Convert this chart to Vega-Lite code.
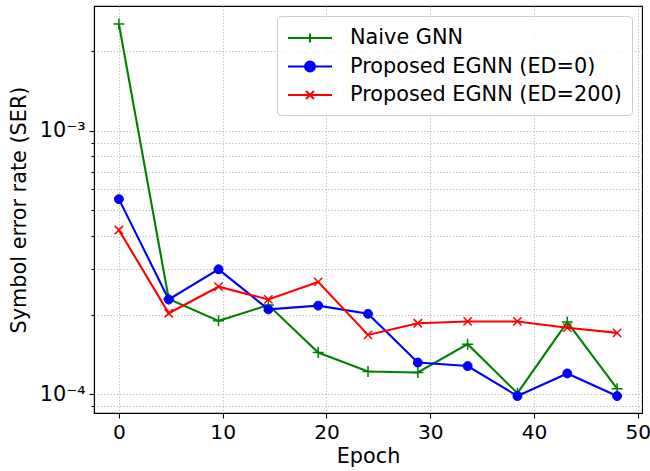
{
  "$schema": "https://vega.github.io/schema/vega-lite/v6.json",
  "autosize": "none",
  "width": 548,
  "height": 407,
  "padding": {"left": 94, "top": 6, "right": 8, "bottom": 58},
  "background": "white",
  "data": {"values": [
    {"epoch": 0, "series": "Naive GNN", "ser": 0.00254},
    {"epoch": 4.8, "series": "Naive GNN", "ser": 0.000230},
    {"epoch": 9.6, "series": "Naive GNN", "ser": 0.000190},
    {"epoch": 14.4, "series": "Naive GNN", "ser": 0.000218},
    {"epoch": 19.2, "series": "Naive GNN", "ser": 0.000144},
    {"epoch": 24, "series": "Naive GNN", "ser": 0.000122},
    {"epoch": 28.8, "series": "Naive GNN", "ser": 0.000121},
    {"epoch": 33.6, "series": "Naive GNN", "ser": 0.000155},
    {"epoch": 38.4, "series": "Naive GNN", "ser": 0.000101},
    {"epoch": 43.2, "series": "Naive GNN", "ser": 0.000188},
    {"epoch": 48, "series": "Naive GNN", "ser": 0.000105},
    {"epoch": 0, "series": "Proposed EGNN (ED=0)", "ser": 0.000550},
    {"epoch": 4.8, "series": "Proposed EGNN (ED=0)", "ser": 0.000229},
    {"epoch": 9.6, "series": "Proposed EGNN (ED=0)", "ser": 0.000298},
    {"epoch": 14.4, "series": "Proposed EGNN (ED=0)", "ser": 0.000210},
    {"epoch": 19.2, "series": "Proposed EGNN (ED=0)", "ser": 0.000217},
    {"epoch": 24, "series": "Proposed EGNN (ED=0)", "ser": 0.000202},
    {"epoch": 28.8, "series": "Proposed EGNN (ED=0)", "ser": 0.000132},
    {"epoch": 33.6, "series": "Proposed EGNN (ED=0)", "ser": 0.000128},
    {"epoch": 38.4, "series": "Proposed EGNN (ED=0)", "ser": 0.0000985},
    {"epoch": 43.2, "series": "Proposed EGNN (ED=0)", "ser": 0.000120},
    {"epoch": 48, "series": "Proposed EGNN (ED=0)", "ser": 0.0000985},
    {"epoch": 0, "series": "Proposed EGNN (ED=200)", "ser": 0.000420},
    {"epoch": 4.8, "series": "Proposed EGNN (ED=200)", "ser": 0.000203},
    {"epoch": 9.6, "series": "Proposed EGNN (ED=200)", "ser": 0.000256},
    {"epoch": 14.4, "series": "Proposed EGNN (ED=200)", "ser": 0.000229},
    {"epoch": 19.2, "series": "Proposed EGNN (ED=200)", "ser": 0.000267},
    {"epoch": 24, "series": "Proposed EGNN (ED=200)", "ser": 0.000168},
    {"epoch": 28.8, "series": "Proposed EGNN (ED=200)", "ser": 0.000186},
    {"epoch": 33.6, "series": "Proposed EGNN (ED=200)", "ser": 0.000189},
    {"epoch": 38.4, "series": "Proposed EGNN (ED=200)", "ser": 0.000189},
    {"epoch": 43.2, "series": "Proposed EGNN (ED=200)", "ser": 0.000179},
    {"epoch": 48, "series": "Proposed EGNN (ED=200)", "ser": 0.000171}
  ]},
  "encoding": {
    "x": {
      "field": "epoch", "type": "quantitative",
      "scale": {"domain": [-2.4, 50.4], "nice": false, "zero": false},
      "axis": {"title": "Epoch", "values": [0, 10, 20, 30, 40, 50], "format": "d", "labelFontSize": 20.2}
    },
    "y": {
      "field": "ser", "type": "quantitative",
      "scale": {"type": "log", "domain": [0.00008495, 0.002972], "nice": false},
      "axis": {
        "title": "Symbol error rate (SER)",
        "values": [0.00009, 0.0001, 0.0002, 0.0003, 0.0004, 0.0005, 0.0006, 0.0007, 0.0008, 0.0009, 0.001, 0.002],
        "labelExpr": "datum.value == 0.001 ? '10⁻³' : (datum.value == 0.0001 ? '10⁻⁴' : '')",
        "tickSize": {"condition": {"test": "datum.value == 0.001 || datum.value == 0.0001", "value": 5}, "value": 3},
        "titlePadding": 10
      }
    }
  },
  "layer": [
    {
      "transform": [{"filter": "datum.series == 'Naive GNN'"}],
      "mark": {"type": "line", "stroke": "#008000", "strokeWidth": 2.1}
    },
    {
      "transform": [{"filter": "datum.series == 'Naive GNN'"}],
      "mark": {"type": "point", "shape": "M-1,0H1M0,-1V1", "size": 121, "filled": false, "stroke": "#008000", "strokeWidth": 1.5, "opacity": 1}
    },
    {
      "transform": [{"filter": "datum.series == 'Proposed EGNN (ED=0)'"}],
      "mark": {"type": "line", "stroke": "#0000ff", "strokeWidth": 2.1}
    },
    {
      "transform": [{"filter": "datum.series == 'Proposed EGNN (ED=0)'"}],
      "mark": {"type": "point", "shape": "circle", "size": 80, "filled": true, "fill": "#0000ff", "stroke": "#0000ff", "strokeWidth": 1, "opacity": 1}
    },
    {
      "transform": [{"filter": "datum.series == 'Proposed EGNN (ED=200)'"}],
      "mark": {"type": "line", "stroke": "#ff0000", "strokeWidth": 2.1}
    },
    {
      "transform": [{"filter": "datum.series == 'Proposed EGNN (ED=200)'"}],
      "mark": {"type": "point", "shape": "M-0.75,-0.75L0.75,0.75M-0.75,0.75L0.75,-0.75", "size": 121, "filled": false, "stroke": "#ff0000", "strokeWidth": 1.5, "opacity": 1}
    },
    {
      "mark": {"type": "point", "opacity": 0, "strokeWidth": 2},
      "encoding": {
        "shape": {
          "field": "series", "type": "nominal",
          "scale": {
            "domain": ["Naive GNN", "Proposed EGNN (ED=0)", "Proposed EGNN (ED=200)"],
            "range": [
              "M-1,0H3M1,-0.41V0.41",
              "M-1,0H3M1.45,0A0.45,0.45 0 1,1 0.55,0A0.45,0.45 0 1,1 1.45,0",
              "M-1,0H3M0.64,-0.36L1.36,0.36M0.64,0.36L1.36,-0.36"
            ]
          },
          "legend": {
            "title": null,
            "orient": "top-right",
            "offset": 10,
            "padding": 10,
            "cornerRadius": 4,
            "strokeColor": "#cccccc",
            "fillColor": "rgba(255,255,255,0.8)",
            "symbolSize": 484,
            "symbolStrokeWidth": 2,
            "symbolOpacity": 1,
            "labelOffset": 39,
            "rowPadding": 6.5,
            "labelFontSize": 20.8,
            "labelFont": "DejaVu Sans",
            "labelColor": "black",
            "labelLimit": 400,
            "encode": {"symbols": {"update": {"opacity": {"value": 1}}}}
          }
        },
        "stroke": {
          "field": "series", "type": "nominal",
          "scale": {
            "domain": ["Naive GNN", "Proposed EGNN (ED=0)", "Proposed EGNN (ED=200)"],
            "range": ["#008000", "#0000ff", "#ff0000"]
          },
          "legend": {"title": null}
        },
        "fill": {
          "field": "series", "type": "nominal",
          "scale": {
            "domain": ["Naive GNN", "Proposed EGNN (ED=0)", "Proposed EGNN (ED=200)"],
            "range": ["transparent", "#0000ff", "transparent"]
          },
          "legend": {"title": null}
        }
      }
    }
  ],
  "config": {
    "font": "DejaVu Sans",
    "view": {"stroke": "black", "strokeWidth": 1.1},
    "axis": {
      "domainColor": "black",
      "domainWidth": 1.1,
      "tickColor": "black",
      "tickWidth": 1.1,
      "tickSize": 5,
      "labelFont": "DejaVu Sans",
      "labelFontSize": 20.8,
      "labelColor": "black",
      "labelPadding": 4,
      "titleFont": "DejaVu Sans",
      "titleFontSize": 20.8,
      "titleFontWeight": "normal",
      "titleColor": "black",
      "titlePadding": 4,
      "grid": true,
      "gridColor": "#b0b0b0",
      "gridDash": [1.2, 2],
      "gridWidth": 0.9,
      "labelFlush": false,
      "labelOverlap": false
    }
  }
}
